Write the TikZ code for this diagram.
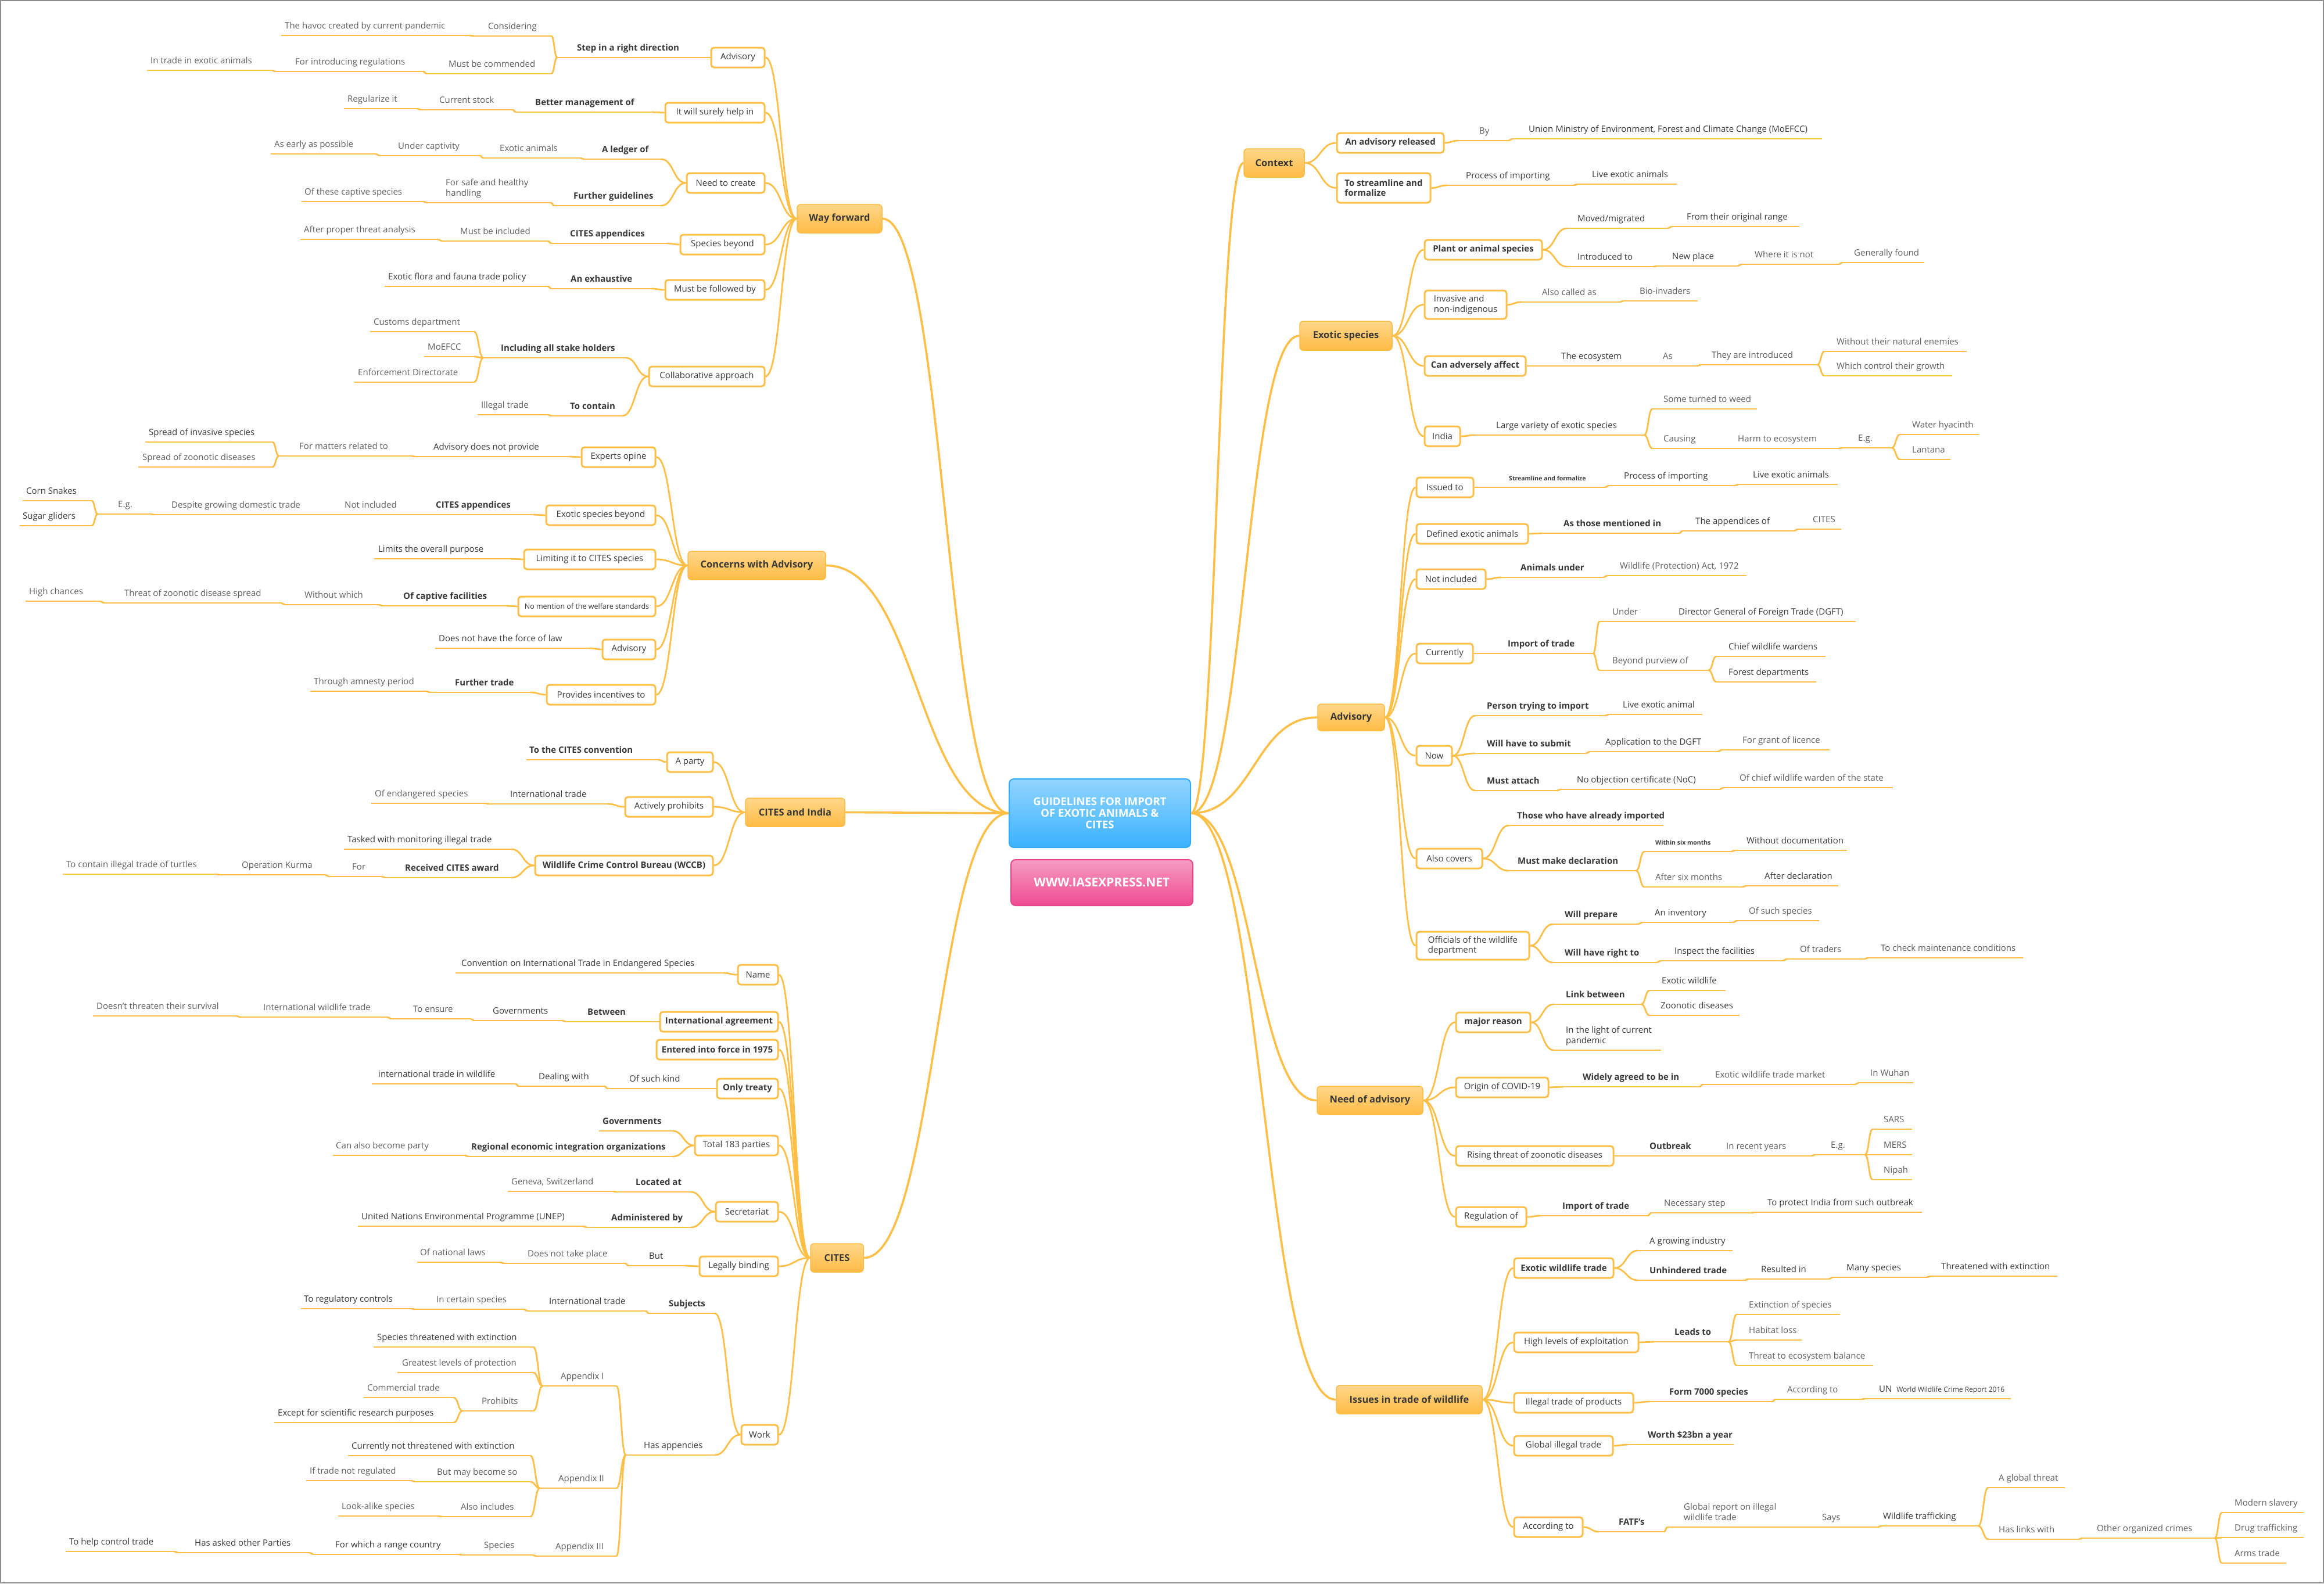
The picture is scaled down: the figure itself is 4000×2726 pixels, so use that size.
\documentclass[tikz,border=0pt]{standalone}
\usepackage{fontspec}
\setmainfont{Open Sans}
\usetikzlibrary{calc}
\definecolor{lc}{HTML}{FFBF47}
\definecolor{tdark}{HTML}{383838}
\definecolor{tgray}{HTML}{5E5E5E}
\definecolor{mtop}{HTML}{FFD78A}
\definecolor{mbot}{HTML}{FFBB44}
\definecolor{btop}{HTML}{92D5FF}
\definecolor{bbot}{HTML}{3AB2FD}
\definecolor{bedge}{HTML}{33ABF6}
\definecolor{ptop}{HTML}{F69CC1}
\definecolor{pbot}{HTML}{EE4B91}
\definecolor{pedge}{HTML}{E8458A}
\newcommand\FsLeaf{\fontsize{15}{17.5}\selectfont}
\newcommand\FsSmall{\fontsize{10.5}{12}\selectfont}
\newcommand\FsWw{\fontsize{12}{13}\selectfont}
\newcommand\FsMid{\fontsize{12.5}{14}\selectfont}
\newcommand\FsMain{\fontsize{16.5}{19}\selectfont}
\newcommand\FsRoot{\fontsize{18.5}{20}\selectfont}
\newcommand\FsWeb{\fontsize{21}{23}\selectfont}
\tikzset{
  ul/.style={draw=lc, line width=2.8pt},
  ln/.style={draw=lc, line width=2.8pt},
  rln/.style={draw=lc, line width=3.6pt},
  cv/.style={to path={let \p1=(\tikztostart), \p2=(\tikztotarget) in
     .. controls ({0.5*\x1+0.5*\x2},\y1) and ({0.5*\x1+0.5*\x2},\y2) .. (\tikztotarget)}},
  lbl/.style={anchor=south west, inner sep=0pt, text depth=3.5pt, align=left, font=\FsLeaf},
  tb/.style={lbl, font=\FsLeaf\bfseries, text=tdark},
  td/.style={lbl, text=tdark},
  tr/.style={lbl, text=tgray},
  tbs/.style={lbl, font=\FsSmall\bfseries, text=tdark},
  subbox/.style={draw=lc, line width=3pt, fill=white, rounded corners=5pt,
     minimum height=34, inner sep=2pt, font=\FsLeaf, text=tdark, align=center},
  subboxb/.style={subbox, font=\FsLeaf\bfseries},
  mainbox/.style={draw=mbot, line width=1.5pt, top color=mtop, bottom color=mbot,
     rounded corners=6pt, minimum height=49, inner sep=2pt, font=\FsMain\bfseries, text=tdark},
  rootbox/.style={draw=bedge, line width=2pt, top color=btop, bottom color=bbot,
     rounded corners=8pt, font=\FsRoot\bfseries, text=white, align=center},
  webbox/.style={draw=pedge, line width=2pt, top color=ptop, bottom color=pbot,
     rounded corners=8pt, font=\FsWeb\bfseries, text=white}
}
% line topic: name, line start x, line end x, line y, text x, style, text
\newcommand\LT[7]{%
  \draw[ul] (#2,#4) coordinate (#1-L) -- (#3,#4) coordinate (#1-R);
  \node[#6] (#1) at (#5,#4-8) {#7};}
\newcommand\CN[2]{\draw[ln] (#1) to[cv] (#2);}
\begin{document}
\begin{tikzpicture}[x=1pt,y=-1pt]
\useasboundingbox (0,0) rectangle (4000,2726);
\fill[white] (0,0) rectangle (4000,2726);
\draw[black!45, line width=2pt] (1,1) rectangle (3999,2725);

% ================= ROOT =================
\node[rootbox, minimum width=312, minimum height=118] (root) at (1893,1400) {GUIDELINES FOR IMPORT\\OF EXOTIC ANIMALS \&\\CITES};
\node[webbox, minimum width=313, minimum height=79] (web) at (1896.5,1519.5) {WWW.IASEXPRESS.NET};

% ================= MAIN BOXES =================
\node[mainbox, minimum width=146] (wf) at (1445,376.5) {Way forward};
\node[mainbox, minimum width=237] (co) at (1302.5,973.5) {Concerns with Advisory};
\node[mainbox, minimum width=171] (ci) at (1368.5,1398.5) {CITES and India};
\node[mainbox, minimum width=91] (cs) at (1440.5,2165.5) {CITES};
\node[mainbox, minimum width=104] (ctx) at (2193,280.5) {Context};
\node[mainbox, minimum width=159, minimum height=50] (exs) at (2316.5,578) {Exotic species};
\node[mainbox, minimum width=115, minimum height=46] (adv) at (2325.5,1235) {Advisory};
\node[mainbox, minimum width=182] (nd) at (2358,1894.5) {Need of advisory};
\node[mainbox, minimum width=251] (is) at (2425.5,2409.5) {Issues in trade of wildlife};

\draw[rln] (root.west) to[cv] (wf.east);
\draw[rln] (root.west) to[cv] (co.east);
\draw[rln] (root.west) to[cv] (ci.east);
\draw[rln] (root.west) to[cv] (cs.east);
\draw[rln] (root.east) to[cv] (ctx.west);
\draw[rln] (root.east) to[cv] (exs.west);
\draw[rln] (root.east) to[cv] (adv.west);
\draw[rln] (root.east) to[cv] (nd.west);
\draw[rln] (root.east) to[cv] (is.west);

% ================= WAY FORWARD =================
\node[subbox, minimum width=92] (wfa) at (1270,99) {Advisory};
\node[subbox, minimum width=171] (wfh) at (1230.5,194) {It will surely help in};
\node[subbox, minimum width=134] (wfn) at (1249,315) {Need to create};
\node[subbox, minimum width=145] (wfs) at (1243.5,421) {Species beyond};
\node[subbox, minimum width=171] (wfm) at (1230.5,499) {Must be followed by};
\node[subbox, minimum width=199] (wfc) at (1216.5,648) {Collaborative approach};
\foreach \b in {wfa,wfh,wfn,wfs,wfm,wfc} {\CN{wf.west}{\b.east}}

\LT{s1}{959}{1204}{99}{993}{tb}{Step in a right direction}
\CN{wfa.west}{s1-R}
\LT{s2}{816}{949}{62}{840}{tr}{Considering}
\CN{s1-L}{s2-R}
\LT{s3}{484}{808}{61}{490}{tr}{The havoc created by current pandemic}
\CN{s2-L}{s3-R}
\LT{s4}{735}{949}{127}{772}{tr}{Must be commended}
\CN{s1-L}{s4-R}
\LT{s5}{474}{728}{123}{508}{tr}{For introducing regulations}
\CN{s4-L}{s5-R}
\LT{s6}{253}{468}{121}{259}{tr}{In trade in exotic animals}
\CN{s5-L}{s6-R}

\LT{h1}{888}{1122}{193}{921}{tb}{Better management of}
\CN{wfh.west}{h1-R}
\LT{h2}{724}{882}{189}{756}{tr}{Current stock}
\CN{h1-L}{h2-R}
\LT{h3}{592}{718}{187}{598}{tr}{Regularize it}
\CN{h2-L}{h3-R}

\LT{n1}{1005}{1138}{274}{1036}{tb}{A ledger of}
\CN{wfn.west}{n1-R}
\LT{n2}{832}{999}{272}{860}{tr}{Exotic animals}
\CN{n1-L}{n2-R}
\LT{n3}{653}{826}{268}{685}{tr}{Under captivity}
\CN{n2-L}{n3-R}
\LT{n4}{466}{647}{265}{472}{tr}{As early as possible}
\CN{n3-L}{n4-R}
\LT{n5}{954}{1138}{354}{987}{tb}{Further guidelines}
\CN{wfn.west}{n5-R}
\LT{n6}{735}{948}{349}{767}{tr}{For safe and healthy\\handling}
\CN{n5-L}{n6-R}
\LT{n7}{519}{729}{347}{524}{tr}{Of these captive species}
\CN{n6-L}{n7-R}

\LT{p1}{949}{1148}{419}{981}{tb}{CITES appendices}
\CN{wfs.west}{p1-R}
\LT{p2}{760}{943}{415}{792}{tr}{Must be included}
\CN{p1-L}{p2-R}
\LT{p3}{517}{754}{412}{523}{tr}{After proper threat analysis}
\CN{p2-L}{p3-R}

\LT{m1}{949}{1122}{497}{982}{tb}{An exhaustive}
\CN{wfm.west}{m1-R}
\LT{m2}{662}{943}{493}{668}{td}{Exotic flora and fauna trade policy}
\CN{m1-L}{m2-R}

\LT{k1}{832}{1077}{616}{862}{tb}{Including all stake holders}
\CN{wfc.west}{k1-R}
\LT{k2}{637}{816}{571}{643}{tr}{Customs department}
\CN{k1-L}{k2-R}
\LT{k3}{730}{816}{614}{736}{tr}{MoEFCC}
\CN{k1-L}{k3-R}
\LT{k4}{610}{816}{658}{616}{tr}{Enforcement Directorate}
\CN{k1-L}{k4-R}
\LT{k5}{949}{1071}{716}{981}{tb}{To contain}
\CN{wfc.west}{k5-R}
\LT{k6}{822}{943}{714}{828}{tr}{Illegal trade}
\CN{k5-L}{k6-R}

% ================= CONCERNS =================
\node[subbox, minimum width=127] (coe) at (1064.5,787) {Experts opine};
\node[subbox, minimum width=188] (cox) at (1034,887) {Exotic species beyond};
\node[subbox, minimum width=226] (col) at (1015,963) {Limiting it to CITES species};
\node[subbox, minimum width=236, font=\FsMid] (con) at (1010,1044) {No mention of the welfare standards};
\node[subbox, minimum width=91] (coa) at (1082.5,1118) {Advisory};
\node[subbox, minimum width=187] (cop) at (1034.5,1196) {Provides incentives to};
\foreach \b in {coe,cox,col,con,coa,cop} {\CN{co.west}{\b.east}}

\LT{e1}{714}{980}{786}{746}{td}{Advisory does not provide}
\CN{coe.west}{e1-R}
\LT{e2}{480}{708}{785}{515}{tr}{For matters related to}
\CN{e1-L}{e2-R}
\LT{e3}{250}{469}{761}{256}{td}{Spread of invasive species}
\CN{e2-L}{e3-R}
\LT{e4}{238}{469}{804}{245}{tr}{Spread of zoonotic diseases}
\CN{e2-L}{e4-R}

\LT{x1}{724}{918}{886}{750}{tb}{CITES appendices}
\CN{cox.west}{x1-R}
\LT{x2}{566}{718}{886}{593}{tr}{Not included}
\CN{x1-L}{x2-R}
\LT{x3}{265}{560}{886}{295}{tr}{Despite growing domestic trade}
\CN{x2-L}{x3-R}
\LT{x4}{168}{259}{885}{203}{tr}{E.g.}
\CN{x3-L}{x4-R}
\LT{x5}{39}{158}{862}{45}{td}{Corn Snakes}
\CN{x4-L}{x5-R}
\LT{x6}{34}{158}{905}{39}{td}{Sugar gliders}
\CN{x4-L}{x6-R}

\LT{l1}{644}{878}{962}{651}{td}{Limits the overall purpose}
\CN{col.west}{l1-R}

\LT{o1}{658}{872}{1043}{694}{tb}{Of captive facilities}
\CN{con.west}{o1-R}
\LT{o2}{490}{652}{1041}{524}{tr}{Without which}
\CN{o1-L}{o2-R}
\LT{o3}{179}{484}{1038}{214}{tr}{Threat of zoonotic disease spread}
\CN{o2-L}{o3-R}
\LT{o4}{44}{173}{1035}{50}{tr}{High chances}
\CN{o3-L}{o4-R}

\LT{a1}{749}{1015}{1116}{755}{td}{Does not have the force of law}
\CN{coa.west}{a1-R}

\LT{v1}{740}{913}{1192}{783}{tb}{Further trade}
\CN{cop.west}{v1-R}
\LT{v2}{534}{734}{1190}{540}{tr}{Through amnesty period}
\CN{v1-L}{v2-R}

% ================= CITES AND INDIA =================
\node[subbox, minimum width=79] (cip) at (1187.5,1312) {A party};
\node[subbox, minimum width=151] (cia) at (1151.5,1389) {Actively prohibits};
\node[subboxb, minimum width=306] (ciw) at (1074,1490) {Wildlife Crime Control Bureau (WCCB)};
\foreach \b in {cip,cia,ciw} {\CN{ci.west}{\b.east}}

\LT{q1}{906}{1133}{1308}{911}{tb}{To the CITES convention}
\CN{cip.west}{q1-R}
\LT{q2}{842}{1046}{1384}{878}{td}{International trade}
\CN{cia.west}{q2-R}
\LT{q3}{639}{836}{1383}{645}{tr}{Of endangered species}
\CN{q2-L}{q3-R}
\LT{w1}{592}{880}{1462}{598}{td}{Tasked with monitoring illegal trade}
\CN{ciw.west}{w1-R}
\LT{w2}{663}{880}{1511}{697}{tb}{Received CITES award}
\CN{ciw.west}{w2-R}
\LT{w3}{566}{657}{1509}{606}{tr}{For}
\CN{w2-L}{w3-R}
\LT{w4}{378}{560}{1506}{416}{tr}{Operation Kurma}
\CN{w3-L}{w4-R}
\LT{w5}{108}{372}{1505}{114}{tr}{To contain illegal trade of turtles}
\CN{w4-L}{w5-R}

% ================= CITES =================
\node[subbox, minimum width=69] (csn) at (1304.5,1678) {Name};
\node[subboxb, minimum width=203] (csi) at (1237.5,1759) {International agreement};
\node[subboxb, minimum width=209] (cse) at (1234.5,1807) {Entered into force in 1975};
\node[subboxb, minimum width=105] (cso) at (1286.5,1874) {Only treaty};
\node[subbox, minimum width=143] (cst) at (1267.5,1972) {Total 183 parties};
\node[subbox, minimum width=107] (css) at (1285.5,2086) {Secretariat};
\node[subbox, minimum width=135] (csl) at (1271.5,2180) {Legally binding};
\node[subbox, minimum width=63] (csw) at (1307.5,2470) {Work};
\foreach \b in {csn,csi,cse,cso,cst,css,csl,csw} {\CN{cs.west}{\b.east}}

\LT{c1}{784}{1245}{1675}{794}{td}{Convention on International Trade in Endangered Species}
\CN{csn.west}{c1-R}
\LT{c2}{974}{1112}{1759}{1011}{tb}{Between}
\CN{csi.west}{c2-R}
\LT{c3}{816}{968}{1757}{848}{td}{Governments}
\CN{c2-L}{c3-R}
\LT{c4}{673}{810}{1754}{711}{tr}{To ensure}
\CN{c3-L}{c4-R}
\LT{c5}{413}{667}{1751}{453}{tr}{International wildlife trade}
\CN{c4-L}{c5-R}
\LT{c6}{160}{407}{1749}{166}{tr}{Doesn't threaten their survival}
\CN{c5-L}{c6-R}
\LT{c7}{1046}{1209}{1874}{1083}{td}{Of such kind}
\CN{cso.west}{c7-R}
\LT{c8}{893}{1040}{1870}{927}{td}{Dealing with}
\CN{c7-L}{c8-R}
\LT{c9}{640}{887}{1866}{651}{td}{international trade in wildlife}
\CN{c8-L}{c9-R}
\LT{c10}{1031}{1158}{1947}{1037}{tb}{Governments}
\CN{cst.west}{c10-R}
\LT{c11}{806}{1158}{1991}{811}{tb}{Regional economic integration organizations}
\CN{cst.west}{c11-R}
\LT{c12}{573}{800}{1989}{578}{tr}{Can also become party}
\CN{c11-L}{c12-R}
\LT{c13}{1061}{1189}{2052}{1094}{tb}{Located at}
\CN{css.west}{c13-R}
\LT{c14}{874}{1055}{2051}{880}{tr}{Geneva, Switzerland}
\CN{c13-L}{c14-R}
\LT{c15}{1010}{1189}{2113}{1052}{tb}{Administered by}
\CN{css.west}{c15-R}
\LT{c16}{616}{1004}{2111}{622}{td}{United Nations Environmental Programme (UNEP)}
\CN{c15-L}{c16-R}
\LT{c17}{1082}{1179}{2179}{1117}{td}{But}
\CN{csl.west}{c17-R}
\LT{c18}{867}{1076}{2175}{908}{tr}{Does not take place}
\CN{c17-L}{c18-R}
\LT{c19}{718}{861}{2173}{723}{tr}{Of national laws}
\CN{c18-L}{c19-R}
\LT{c20}{1117}{1230}{2261}{1151}{tb}{Subjects}
\CN{csw.west}{c20-R}
\LT{c21}{908}{1111}{2257}{945}{td}{International trade}
\CN{c20-L}{c21-R}
\LT{c22}{714}{902}{2254}{751}{tr}{In certain species}
\CN{c21-L}{c22-R}
\LT{c23}{518}{708}{2253}{523}{td}{To regulatory controls}
\CN{c22-L}{c23-R}
\LT{c24}{1077}{1230}{2505}{1108}{td}{Has appencies}
\CN{csw.west}{c24-R}
\LT{c25}{934}{1061}{2386}{965}{tr}{Appendix I}
\CN{c24-L}{c25-R}
\LT{c26}{643}{918}{2319}{649}{td}{Species threatened with extinction}
\CN{c25-L}{c26-R}
\LT{c27}{684}{918}{2363}{692}{tr}{Greatest levels of protection}
\CN{c25-L}{c27-R}
\LT{c28}{796}{918}{2429}{829}{tr}{Prohibits}
\CN{c25-L}{c28-R}
\LT{c29}{626}{781}{2406}{632}{tr}{Commercial trade}
\CN{c28-L}{c29-R}
\LT{c30}{472}{781}{2449}{478}{td}{Except for scientific research purposes}
\CN{c28-L}{c30-R}
\LT{c31}{929}{1061}{2562}{961}{tr}{Appendix II}
\CN{c24-L}{c31-R}
\LT{c32}{599}{913}{2506}{605}{td}{Currently not threatened with extinction}
\CN{c31-L}{c32-R}
\LT{c33}{714}{913}{2551}{752}{tr}{But may become so}
\CN{c31-L}{c33-R}
\LT{c34}{527}{708}{2549}{533}{tr}{If trade not regulated}
\CN{c33-L}{c34-R}
\LT{c35}{760}{913}{2611}{793}{tr}{Also includes}
\CN{c31-L}{c35-R}
\LT{c36}{582}{754}{2610}{588}{tr}{Look-alike species}
\CN{c35-L}{c36-R}
\LT{c37}{923}{1061}{2679}{956}{tr}{Appendix III}
\CN{c24-L}{c37-R}
\LT{c38}{796}{917}{2677}{833}{tr}{Species}
\CN{c37-L}{c38-R}
\LT{c39}{539}{790}{2676}{577}{td}{For which a range country}
\CN{c38-L}{c39-R}
\LT{c40}{306}{533}{2673}{335}{td}{Has asked other Parties}
\CN{c39-L}{c40-R}
\LT{c41}{113}{300}{2671}{119}{td}{To help control trade}
\CN{c40-L}{c41-R}

% ================= CONTEXT =================
\node[subboxb, minimum width=184] (cxa) at (2393,246) {An advisory released};
\node[subboxb, minimum width=161, minimum height=51, align=left] (cxs) at (2381.5,323.5) {To streamline and\\formalize};
\foreach \b in {cxa,cxs} {\CN{ctx.east}{\b.west}}

\LT{r1}{2510}{2597}{242}{2546}{tr}{By}
\CN{cxa.east}{r1-L}
\LT{r2}{2603}{3136}{239}{2631}{td}{Union Ministry of Environment, Forest and Climate Change (MoEFCC)}
\CN{r1-R}{r2-L}
\LT{r3}{2490}{2709}{319}{2523}{td}{Process of importing}
\CN{cxs.east}{r3-L}
\LT{r4}{2715}{2886}{317}{2740}{td}{Live exotic animals}
\CN{r3-R}{r4-L}

% ================= EXOTIC SPECIES =================
\node[subboxb, minimum width=202] (exp) at (2553,430) {Plant or animal species};
\node[subbox, minimum width=141, minimum height=49, align=left] (exi) at (2522.5,524.5) {Invasive and\\non-indigenous};
\node[subboxb, minimum width=174] (exc) at (2539,630) {Can adversely affect};
\node[subbox, minimum width=61] (exn) at (2482.5,751) {India};
\foreach \b in {exp,exi,exc,exn} {\CN{exs.east}{\b.west}}

\LT{e5}{2697}{2871}{393}{2715}{td}{Moved/migrated}
\CN{exp.east}{e5-L}
\LT{e6}{2877}{3097}{390}{2903}{td}{From their original range}
\CN{e5-R}{e6-L}
\LT{e7}{2697}{2846}{459}{2715}{td}{Introduced to}
\CN{exp.east}{e7-L}
\LT{e8}{2852}{2991}{458}{2878}{td}{New place}
\CN{e7-R}{e8-L}
\LT{e9}{2997}{3165}{455}{3020}{tr}{Where it is not}
\CN{e8-R}{e9-L}
\LT{e10}{3171}{3312}{452}{3191}{tr}{Generally found}
\CN{e9-R}{e10-L}
\LT{e11}{2618}{2788}{520}{2654}{tr}{Also called as}
\CN{exi.east}{e11-L}
\LT{e12}{2794}{2922}{518}{2822}{tr}{Bio-invaders}
\CN{e11-R}{e12-L}
\LT{e13}{2651}{2825}{630}{2687}{td}{The ecosystem}
\CN{exc.east}{e13-L}
\LT{e14}{2831}{2921}{630}{2862}{tr}{As}
\CN{e13-R}{e14-L}
\LT{e15}{2927}{3128}{628}{2946}{tr}{They are introduced}
\CN{e14-R}{e15-L}
\LT{e16}{3140}{3385}{605}{3161}{tr}{Without their natural enemies}
\CN{e15-R}{e16-L}
\LT{e17}{3140}{3360}{647}{3161}{tr}{Which control their growth}
\CN{e15-R}{e17-L}
\LT{e18}{2539}{2830}{749}{2575}{td}{Large variety of exotic species}
\CN{exn.east}{e18-L}
\LT{e19}{2844}{3024}{704}{2863}{tr}{Some turned to weed}
\CN{e18-R}{e19-L}
\LT{e20}{2844}{2954}{772}{2863}{tr}{Causing}
\CN{e18-R}{e20-L}
\LT{e21}{2960}{3165}{772}{2991}{tr}{Harm to ecosystem}
\CN{e20-R}{e21-L}
\LT{e22}{3171}{3256}{771}{3198}{tr}{E.g.}
\CN{e21-R}{e22-L}
\LT{e23}{3270}{3406}{748}{3291}{tr}{Water hyacinth}
\CN{e22-R}{e23-L}
\LT{e24}{3270}{3357}{791}{3291}{tr}{Lantana}
\CN{e22-R}{e24-L}

% ================= ADVISORY =================
\node[subbox, minimum width=98] (ad1) at (2487,839) {Issued to};
\node[subbox, minimum width=192] (ad2) at (2534,919) {Defined exotic animals};
\node[subbox, minimum width=119] (ad3) at (2497.5,997) {Not included};
\node[subbox, minimum width=97] (ad4) at (2486.5,1125) {Currently};
\node[subbox, minimum width=61] (ad5) at (2468.5,1301) {Now};
\node[subbox, minimum width=113] (ad6) at (2494.5,1478) {Also covers};
\node[subbox, minimum width=194, minimum height=48, align=left] (ad7) at (2535,1628) {Officials of the wildlife\\department};
\foreach \b in {ad1,ad2,ad3,ad4,ad5,ad6,ad7} {\CN{adv.east}{\b.west}}

\LT{d1}{2559}{2763}{839}{2597}{tbs}{Streamline and formalize}
\CN{ad1.east}{d1-L}
\LT{d2}{2769}{2986}{836}{2795}{td}{Process of importing}
\CN{d1-R}{d2-L}
\LT{d3}{2992}{3163}{834}{3017}{td}{Live exotic animals}
\CN{d2-R}{d3-L}
\LT{d4}{2654}{2890}{918}{2691}{tb}{As those mentioned in}
\CN{ad2.east}{d4-L}
\LT{d5}{2896}{3088}{914}{2918}{td}{The appendices of}
\CN{d4-R}{d5-L}
\LT{d6}{3094}{3169}{911}{3120}{tr}{CITES}
\CN{d5-R}{d6-L}
\LT{d7}{2584}{2760}{994}{2617}{tb}{Animals under}
\CN{ad3.east}{d7-L}
\LT{d8}{2766}{3006}{991}{2788}{tr}{Wildlife (Protection) Act, 1972}
\CN{d7-R}{d8-L}
\LT{d9}{2559}{2742}{1125}{2595}{tb}{Import of trade}
\CN{ad4.east}{d9-L}
\LT{d10}{2753}{2877}{1070}{2775}{tr}{Under}
\CN{d9-R}{d10-L}
\LT{d11}{2883}{3194}{1070}{2889}{td}{Director General of Foreign Trade (DGFT)}
\CN{d10-R}{d11-L}
\LT{d12}{2753}{2941}{1154}{2775}{tr}{Beyond purview of}
\CN{d9-R}{d12-L}
\LT{d13}{2954}{3142}{1130}{2975}{td}{Chief wildlife wardens}
\CN{d12-R}{d13-L}
\LT{d14}{2954}{3126}{1174}{2975}{td}{Forest departments}
\CN{d12-R}{d14-L}
\LT{d15}{2539}{2763}{1232}{2559}{tb}{Person trying to import}
\CN{ad5.east}{d15-L}
\LT{d16}{2769}{2930}{1230}{2793}{td}{Live exotic animal}
\CN{d15-R}{d16-L}
\LT{d17}{2539}{2730}{1297}{2559}{tb}{Will have to submit}
\CN{ad5.east}{d17-L}
\LT{d18}{2736}{2957}{1294}{2763}{td}{Application to the DGFT}
\CN{d17-R}{d18-L}
\LT{d19}{2963}{3149}{1291}{2999}{tr}{For grant of licence}
\CN{d18-R}{d19-L}
\LT{d20}{2539}{2680}{1361}{2559}{tb}{Must attach}
\CN{ad5.east}{d20-L}
\LT{d21}{2686}{2960}{1359}{2714}{td}{No objection certificate (NoC)}
\CN{d20-R}{d21-L}
\LT{d22}{2966}{3258}{1356}{2994}{tr}{Of chief wildlife warden of the state}
\CN{d21-R}{d22-L}
\LT{d23}{2597}{2863}{1421}{2611}{tb}{Those who have already imported}
\CN{ad6.east}{d23-L}
\LT{d24}{2597}{2816}{1499}{2612}{tb}{Must make declaration}
\CN{ad6.east}{d24-L}
\LT{d25}{2830}{2980}{1466}{2849}{tbs}{Within six months}
\CN{d24-R}{d25-L}
\LT{d26}{2986}{3179}{1464}{3006}{td}{Without documentation}
\CN{d25-R}{d26-L}
\LT{d27}{2830}{2999}{1527}{2849}{tr}{After six months}
\CN{d24-R}{d27-L}
\LT{d28}{3005}{3164}{1525}{3037}{td}{After declaration}
\CN{d27-R}{d28-L}
\LT{d29}{2673}{2820}{1591}{2693}{tb}{Will prepare}
\CN{ad7.east}{d29-L}
\LT{d30}{2826}{2983}{1588}{2848}{td}{An inventory}
\CN{d29-R}{d30-L}
\LT{d31}{2989}{3131}{1585}{3010}{tr}{Of such species}
\CN{d30-R}{d31-L}
\LT{d32}{2673}{2852}{1657}{2693}{tb}{Will have right to}
\CN{ad7.east}{d32-L}
\LT{d33}{2858}{3069}{1654}{2882}{td}{Inspect the facilities}
\CN{d32-R}{d33-L}
\LT{d34}{3075}{3209}{1651}{3098}{tr}{Of traders}
\CN{d33-R}{d34-L}
\LT{d35}{3215}{3482}{1649}{3237}{tr}{To check maintenance conditions}
\CN{d34-R}{d35-L}

% ================= NEED OF ADVISORY =================
\node[subboxb, minimum width=128] (nd1) at (2570,1760) {major reason};
\node[subbox, minimum width=159] (nd2) at (2585.5,1872) {Origin of COVID-19};
\node[subbox, minimum width=271] (nd3) at (2641.5,1990) {Rising threat of zoonotic diseases};
\node[subbox, minimum width=121] (nd4) at (2566.5,2095) {Regulation of};
\foreach \b in {nd1,nd2,nd3,nd4} {\CN{nd.east}{\b.west}}

\LT{g1}{2674}{2825}{1729}{2695}{tb}{Link between}
\CN{nd1.east}{g1-L}
\LT{g2}{2839}{2970}{1705}{2860}{td}{Exotic wildlife}
\CN{g1-R}{g2-L}
\LT{g3}{2839}{2994}{1748}{2858}{td}{Zoonotic diseases}
\CN{g1-R}{g3-L}
\LT{g4}{2674}{2859}{1808}{2695}{td}{In the light of current\\pandemic}
\CN{nd1.east}{g4-L}
\LT{g5}{2691}{2925}{1871}{2724}{tb}{Widely agreed to be in}
\CN{nd2.east}{g5-L}
\LT{g6}{2931}{3193}{1867}{2952}{tr}{Exotic wildlife trade market}
\CN{g5-R}{g6-L}
\LT{g7}{3199}{3293}{1864}{3219}{tr}{In Wuhan}
\CN{g6-R}{g7-L}
\LT{g8}{2802}{2933}{1990}{2839}{tb}{Outbreak}
\CN{nd3.east}{g8-L}
\LT{g9}{2939}{3118}{1990}{2971}{tr}{In recent years}
\CN{g8-R}{g9-L}
\LT{g10}{3124}{3210}{1988}{3151}{tr}{E.g.}
\CN{g9-R}{g10-L}
\LT{g11}{3223}{3291}{1944}{3242}{tr}{SARS}
\CN{g10-R}{g11-L}
\LT{g12}{3223}{3291}{1988}{3242}{tr}{MERS}
\CN{g10-R}{g12-L}
\LT{g13}{3223}{3291}{2031}{3242}{tr}{Nipah}
\CN{g10-R}{g13-L}
\LT{g14}{2652}{2836}{2093}{2689}{tb}{Import of trade}
\CN{nd4.east}{g14-L}
\LT{g15}{2842}{3014}{2088}{2864}{tr}{Necessary step}
\CN{g14-R}{g15-L}
\LT{g16}{3020}{3308}{2087}{3042}{td}{To protect India from such outbreak}
\CN{g15-R}{g16-L}

% ================= ISSUES =================
\node[subboxb, minimum width=171] (is1) at (2691.5,2183) {Exotic wildlife trade};
\node[subbox, minimum width=214] (is2) at (2713,2311) {High levels of exploitation};
\node[subbox, minimum width=205] (is3) at (2708.5,2415) {Illegal trade of products};
\node[subbox, minimum width=170] (is4) at (2691,2489) {Global illegal trade};
\node[subbox, minimum width=118] (is5) at (2665,2629) {According to};
\foreach \b in {is1,is2,is3,is4,is5} {\CN{is.east}{\b.west}}

\LT{f1}{2819}{2982}{2153}{2839}{td}{A growing industry}
\CN{is1.east}{f1-L}
\LT{f2}{2819}{3003}{2204}{2839}{tb}{Unhindered trade}
\CN{is1.east}{f2-L}
\LT{f3}{3009}{3148}{2202}{3031}{td}{Resulted in}
\CN{f2-R}{f3-L}
\LT{f4}{3154}{3316}{2199}{3178}{td}{Many species}
\CN{f3-R}{f4-L}
\LT{f5}{3322}{3541}{2197}{3341}{td}{Threatened with extinction}
\CN{f4-R}{f5-L}
\LT{f6}{2847}{2975}{2310}{2882}{tb}{Leads to}
\CN{is2.east}{f6-L}
\LT{f7}{2989}{3167}{2263}{3010}{tr}{Extinction of species}
\CN{f6-R}{f7-L}
\LT{f8}{2989}{3101}{2307}{3010}{tr}{Habitat loss}
\CN{f6-R}{f8-L}
\LT{f9}{2989}{3224}{2351}{3010}{tr}{Threat to ecosystem balance}
\CN{f6-R}{f9-L}
\LT{f10}{2839}{3050}{2413}{2873}{tb}{Form 7000 species}
\CN{is3.east}{f10-L}
\LT{f11}{3056}{3204}{2409}{3076}{tr}{According to}
\CN{f10-R}{f11-L}
\LT{f12}{3210}{3461}{2408}{3234}{td}{UN\ \ {\FsWw World Wildlife Crime Report 2016}}
\CN{f11-R}{f12-L}
\LT{f13}{2802}{2984}{2487}{2836}{tb}{Worth \$23bn a year}
\CN{is4.east}{f13-L}
\LT{f14}{2752}{2864}{2637}{2786}{tb}{FATF's}
\CN{is5.east}{f14-L}
\LT{f15}{2870}{3110}{2629}{2898}{tr}{Global report on illegal\\wildlife trade}
\CN{f14-R}{f15-L}
\LT{f16}{3116}{3232}{2629}{3136}{tr}{Says}
\CN{f15-R}{f16-L}
\LT{f17}{3238}{3405}{2627}{3241}{td}{Wildlife trafficking}
\CN{f16-R}{f17-L}
\LT{f18}{3422}{3554}{2561}{3440}{tr}{A global threat}
\CN{f17-R}{f18-L}
\LT{f19}{3422}{3578}{2650}{3440}{tr}{Has links with}
\CN{f17-R}{f19-L}
\LT{f20}{3584}{3812}{2648}{3609}{tr}{Other organized crimes}
\CN{f19-R}{f20-L}
\LT{f21}{3824}{3965}{2604}{3846}{tr}{Modern slavery}
\CN{f20-R}{f21-L}
\LT{f22}{3824}{3965}{2647}{3846}{tr}{Drug trafficking}
\CN{f20-R}{f22-L}
\LT{f23}{3824}{3935}{2691}{3846}{tr}{Arms trade}
\CN{f20-R}{f23-L}
\end{tikzpicture}
\end{document}
